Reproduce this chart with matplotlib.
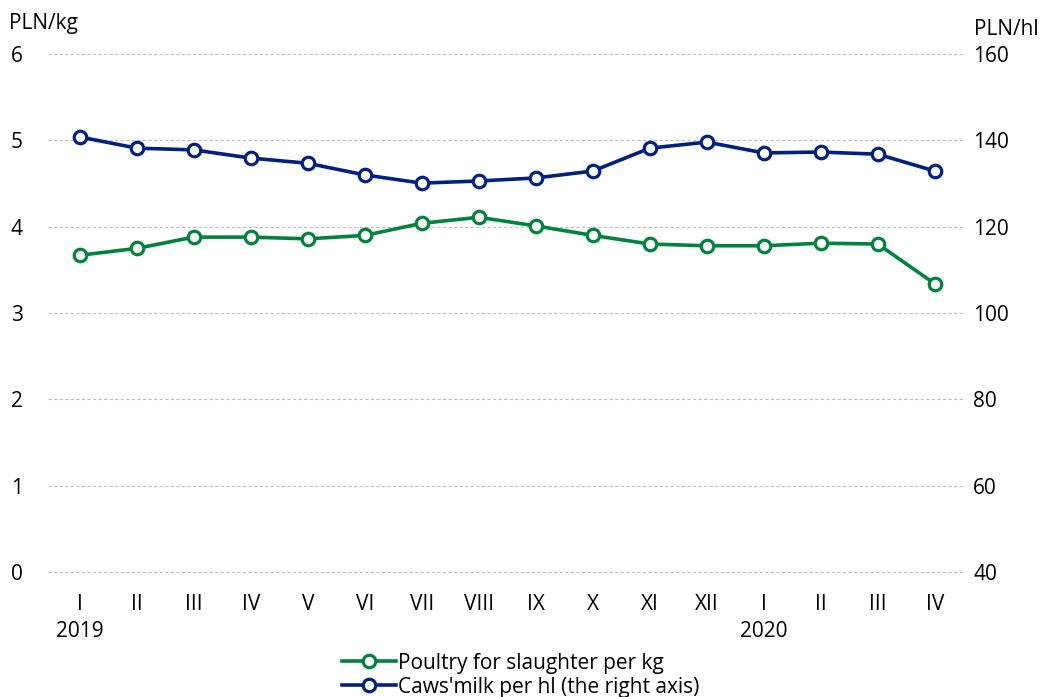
import numpy as np
import matplotlib.pyplot as plt

plt.rcParams['font.family'] = ['Open Sans', 'DejaVu Sans']

months = ["I\n2019", "II", "III", "IV", "V", "VI", "VII", "VIII", "IX", "X",
          "XI", "XII", "I\n2020", "II", "III", "IV"]
poultry = [3.67, 3.75, 3.88, 3.88, 3.86, 3.90, 4.04, 4.11, 4.01, 3.90,
           3.80, 3.78, 3.78, 3.81, 3.80, 3.34]
milk = [140.8, 138.2, 137.8, 135.9, 134.7, 132.0, 130.1, 130.6, 131.3, 132.9,
        138.2, 139.6, 137.1, 137.3, 136.8, 132.9]

green = "#00843D"
navy = "#002082"

fig = plt.figure(figsize=(10.41, 6.97), dpi=100)
ax = fig.add_axes([0.046, 0.179, 0.881, 0.7435])
ax2 = ax.twinx()

x = np.arange(len(months))
l1, = ax.plot(x, poultry, color=green, lw=2.6, marker="o", ms=9,
              mfc="white", mec=green, mew=2.3, zorder=3,
              label="Poultry for slaughter per kg")
l2, = ax2.plot(x, milk, color=navy, lw=2.6, marker="o", ms=9,
               mfc="white", mec=navy, mew=2.3, zorder=3,
               label="Caws'milk per hl (the right axis)")

ax.set_xlim(-0.56, 15.53)
ax.set_ylim(0, 6)
ax2.set_ylim(40, 160)
ax.set_yticks(range(0, 7))
ax2.set_yticks(range(40, 161, 20))
ax.set_xticks(x)
ax.set_xticklabels(months)

ax.grid(axis="y", color="#BFBFBF", ls=(0, (3, 2)), lw=0.8)
for gl in ax.get_ygridlines():
    gl.set_clip_on(False)
ax.set_axisbelow(True)
for a in (ax, ax2):
    for s in a.spines.values():
        s.set_visible(False)
    a.tick_params(length=0, labelsize=15, colors="black")
ax.tick_params(axis="y", pad=18)
ax2.tick_params(axis="y", pad=6)
ax.tick_params(axis="x", pad=16)
for t in ax.get_xticklabels():
    t.set_linespacing(1.35)

fig.text(0.009, 0.966, "PLN/kg", fontsize=15, va="center", ha="left")
fig.text(0.998, 0.958, "PLN/hl", fontsize=15, va="center", ha="right")

fig.legend(handles=[l1, l2], loc="lower center", bbox_to_anchor=(0.5, -0.019),
           ncol=1, frameon=False, fontsize=15, handlelength=2.6,
           handletextpad=0.1, labelspacing=0.15, borderaxespad=0.2)

fig.savefig("out.png", dpi=100)
